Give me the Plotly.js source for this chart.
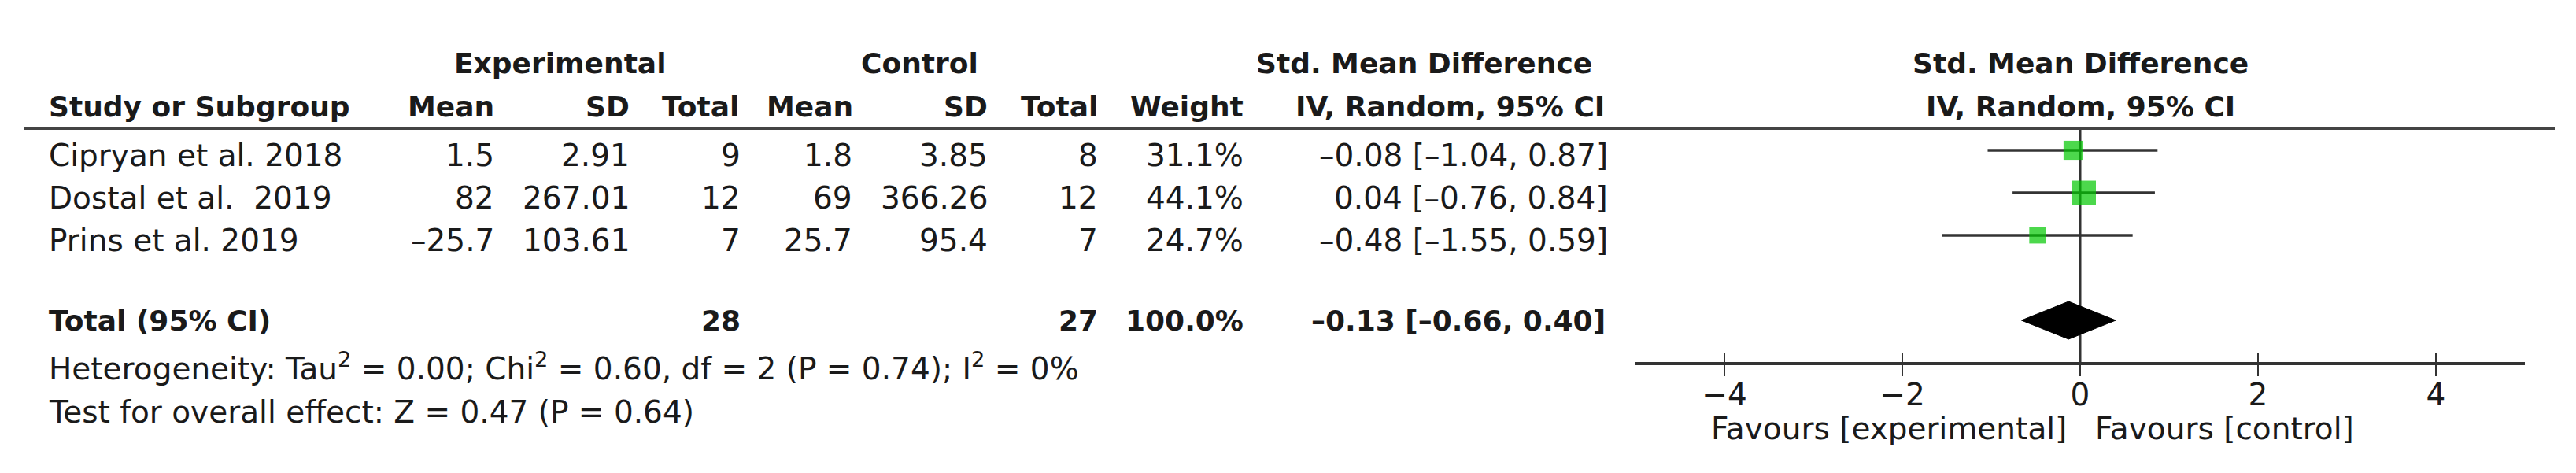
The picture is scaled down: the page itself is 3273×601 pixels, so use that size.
<!DOCTYPE html>
<html>
<head>
<meta charset="utf-8">
<script src="https://cdn.plot.ly/plotly-3.0.1.min.js"></script>
<style>html,body{margin:0;padding:0;background:#fff;}#chart{width:3273px;height:601px;}</style>
</head>
<body>
<div id="chart"></div>
<script>
// ---------- data ----------
const studies   = ["Cipryan et al. 2018", "Dostal et al.  2019", "Prins et al. 2019"];
const expMean   = [1.5, 82, -25.7];
const expSD     = [2.91, 267.01, 103.61];
const expTotal  = [9, 12, 7];
const ctrlMean  = [1.8, 69, 25.7];
const ctrlSD    = [3.85, 366.26, 95.4];
const ctrlTotal = [8, 12, 7];
const weights   = [31.1, 44.1, 24.7];
const smd       = [-0.08, 0.04, -0.48];
const ciLow     = [-1.04, -0.76, -1.55];
const ciHigh    = [0.87, 0.84, 0.59];
const totalLabel = "Total (95% CI)";
const totalExp = 28, totalCtrl = 27, totalWeight = 100.0;
const totalSmd = -0.13, totalLow = -0.66, totalHigh = 0.40;
const axisTicks = [-4, -2, 0, 2, 4];
const heterogeneity = "Heterogeneity: Tau<sup>2</sup> = 0.00; Chi<sup>2</sup> = 0.60, df = 2 (P = 0.74); I<sup>2</sup> = 0%";
const overallTest = "Test for overall effect: Z = 0.47 (P = 0.64)";
const favLeft = "Favours [experimental]", favRight = "Favours [control]";

// ---------- layout helpers ----------
const W = 3273, H = 601;
const ROW0 = 191, ROWH = 54;           // pixel row of first study, row spacing
const studyRows = studies.map((_, i) => i);
const totalRow = 4;
const AXIS_Y = 462, HEADER_Y = 163;
const py = p => 1 - p / H;
const px = p => p / W;
const dash = v => String(v).replace('-', '\u2013');
const f2 = v => v.toFixed(2).replace('-', '\u2013');
const ciText = (e, l, h) => `${f2(e)} [${f2(l)}, ${f2(h)}]`;

const TXT = '#1a1a1a';
const REG = 39, BOLD = 36;
const ann = [];
function txt(text, x, y, xanchor, opts = {}) {
  ann.push(Object.assign({
    text: text, x: x, y: y, xref: 'paper', yref: 'paper',
    xanchor: xanchor, yanchor: 'middle', showarrow: false,
    font: {family: 'DejaVu Sans', size: opts.bold ? BOLD : REG, color: TXT}
  }, opts.extra || {}));
}
const B = s => `<b>${s}</b>`;

// header rows
txt(B('Experimental'), px(712), py(80), 'center', {bold: true});
txt(B('Control'), px(1168), py(80), 'center', {bold: true});
txt(B('Std. Mean Difference'), px(1810), py(80), 'center', {bold: true});
txt(B('Std. Mean Difference'), 0, py(80), 'center', {bold: true, extra: {xref: 'x'}});
txt(B('Study or Subgroup'), px(60), py(135), 'left', {bold: true});
txt(B('Mean'), px(630), py(135), 'right', {bold: true});
txt(B('SD'), px(802), py(135), 'right', {bold: true});
txt(B('Total'), px(941), py(135), 'right', {bold: true});
txt(B('Mean'), px(1086), py(135), 'right', {bold: true});
txt(B('SD'), px(1257), py(135), 'right', {bold: true});
txt(B('Total'), px(1397), py(135), 'right', {bold: true});
txt(B('Weight'), px(1582), py(135), 'right', {bold: true});
txt(B('IV, Random, 95% CI'), px(1842), py(135), 'center', {bold: true});
txt(B('IV, Random, 95% CI'), 0, py(135), 'center', {bold: true, extra: {xref: 'x'}});

// study rows
const rowOpt = i => ({extra: {yref: 'y', y: studyRows[i], yshift: -6}});
studies.forEach((s, i) => {
  txt(s, px(60), 0, 'left', rowOpt(i));
  txt(dash(expMean[i]), px(630), 0, 'right', rowOpt(i));
  txt(dash(expSD[i]), px(802), 0, 'right', rowOpt(i));
  txt(String(expTotal[i]), px(943), 0, 'right', rowOpt(i));
  txt(dash(ctrlMean[i]), px(1085), 0, 'right', rowOpt(i));
  txt(dash(ctrlSD[i]), px(1257), 0, 'right', rowOpt(i));
  txt(String(ctrlTotal[i]), px(1397), 0, 'right', rowOpt(i));
  txt(weights[i].toFixed(1) + '%', px(1582), 0, 'right', rowOpt(i));
  txt(ciText(smd[i], ciLow[i], ciHigh[i]), px(2045), 0, 'right', rowOpt(i));
});
// total row
const totOpt = {bold: true, extra: {yref: 'y', y: totalRow}};
txt(B(totalLabel), px(60), 0, 'left', totOpt);
txt(B(String(totalExp)), px(943), 0, 'right', totOpt);
txt(B(String(totalCtrl)), px(1397), 0, 'right', totOpt);
txt(B(totalWeight.toFixed(1) + '%'), px(1582), 0, 'right', totOpt);
txt(B(ciText(totalSmd, totalLow, totalHigh)), px(2042), 0, 'right', totOpt);
// footer
txt(heterogeneity, px(60), py(466), 'left');
txt(overallTest, px(60), py(523), 'left');
// favours labels
txt(favLeft, 0, py(544), 'right', {extra: {xref: 'x', xshift: -15}});
txt(favRight, 0, py(544), 'left', {extra: {xref: 'x', xshift: 17}});

// ---------- traces ----------
const studyTrace = {
  type: 'scatter', mode: 'markers', x: smd, y: studyRows,
  marker: {symbol: 'square', color: '#00c800', size: weights.map(w => 8 + 0.52 * w), line: {width: 0}},
  error_x: {type: 'data', symmetric: false,
            array: ciHigh.map((h, i) => h - smd[i]),
            arrayminus: ciLow.map((l, i) => smd[i] - l),
            thickness: 3.5, width: 0, color: '#333'},
  hoverinfo: 'skip', cliponaxis: false
};
const dh = 24 / ROWH;
const diamond = {
  type: 'scatter', mode: 'lines', fill: 'toself', fillcolor: '#000',
  x: [totalLow, totalSmd, totalHigh, totalSmd, totalLow],
  y: [totalRow, totalRow - dh, totalRow, totalRow + dh, totalRow],
  line: {color: '#000', width: 1}, hoverinfo: 'skip'
};
const dummy2 = {type: 'scatter', mode: 'markers', x: [0], y: [-50], xaxis: 'x2', yaxis: 'y',
                marker: {opacity: 0}, hoverinfo: 'skip'};
const dummy3 = {type: 'scatter', mode: 'markers', x: [0], y: [-50], xaxis: 'x3', yaxis: 'y',
                marker: {opacity: 0}, hoverinfo: 'skip'};

const tickStyle = {tickwidth: 2.5, tickcolor: '#333', tickvals: axisTicks, showgrid: false, zeroline: false};
const layout = {
  width: W, height: H, margin: {l: 0, r: 0, t: 0, b: 0, pad: 0},
  paper_bgcolor: '#fff', plot_bgcolor: 'rgba(0,0,0,0)', showlegend: false,
  font: {family: 'DejaVu Sans', size: REG, color: TXT},
  // main axis: line + labels (short ticks keep labels close, as in the reference)
  xaxis: Object.assign({domain: [2078 / W, 3208 / W], range: [-5, 5], anchor: 'free', position: py(AXIS_Y),
          showline: true, linewidth: 4, linecolor: '#333', ticks: 'outside', ticklen: 4,
          tickfont: {family: 'DejaVu Sans', size: REG, color: TXT}, fixedrange: true}, tickStyle),
  // tick marks above the line
  xaxis2: Object.assign({overlaying: 'x', matches: 'x', anchor: 'free', position: py(AXIS_Y),
           ticks: 'inside', ticklen: 14, showticklabels: false, showline: false}, tickStyle),
  // tick marks below the line
  xaxis3: Object.assign({overlaying: 'x', matches: 'x', anchor: 'free', position: py(AXIS_Y),
           ticks: 'outside', ticklen: 15, showticklabels: false, showline: false}, tickStyle),
  yaxis: {domain: [0, 1], range: [(H - ROW0) / ROWH, -ROW0 / ROWH], visible: false, fixedrange: true},
  shapes: [
    {type: 'line', xref: 'paper', yref: 'paper', x0: px(30), x1: px(3246), y0: py(HEADER_Y), y1: py(HEADER_Y),
     line: {color: '#444', width: 4}},
    {type: 'line', xref: 'x', yref: 'paper', x0: 0, x1: 0, y0: py(AXIS_Y), y1: py(HEADER_Y),
     line: {color: '#333', width: 3}, layer: 'below'}
  ],
  annotations: ann
};
Plotly.newPlot('chart', [studyTrace, diamond, dummy2, dummy3], layout, {displayModeBar: false, staticPlot: true});
</script>
</body>
</html>
